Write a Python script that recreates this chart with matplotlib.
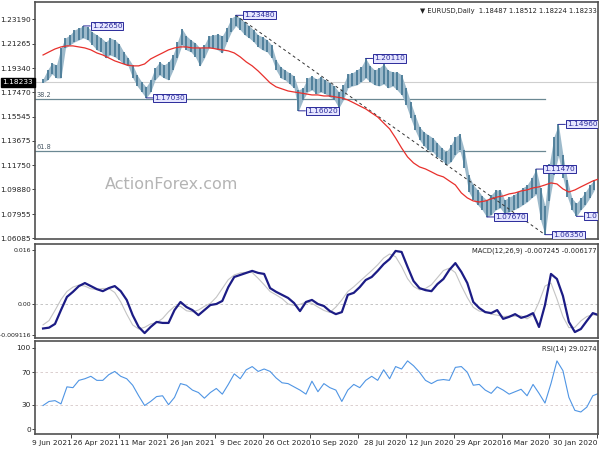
import matplotlib.pyplot as plt

# bar shift 0 = newest bar; the chart is mirrored, so newest is at the left
price_hi = [1.1851, 1.1921, 1.1976, 1.1960, 1.2093, 1.2171, 1.2195, 1.2234, 1.2249, 1.2265,
            1.2257, 1.2218, 1.2195, 1.2171, 1.2140, 1.2171, 1.2156, 1.2124, 1.2062, 1.2015,
            1.1960, 1.1882, 1.1828, 1.1789, 1.1843, 1.1937, 1.1984, 1.1960, 1.1984, 1.2038,
            1.2140, 1.2243, 1.2187, 1.2156, 1.2132, 1.2093, 1.2117, 1.2187, 1.2195, 1.2202,
            1.2187, 1.2249, 1.2327, 1.2348, 1.2327, 1.2296, 1.2265, 1.2234, 1.2195, 1.2179,
            1.2156, 1.2117, 1.1999, 1.1945, 1.1921, 1.1898, 1.1874, 1.1765, 1.1781, 1.1859,
            1.1874, 1.1851, 1.1867, 1.1843, 1.1820, 1.1796, 1.1749, 1.1804, 1.1890, 1.1898,
            1.1921, 1.1945, 1.2011, 1.1953, 1.1921, 1.1937, 1.1968, 1.1921, 1.1906, 1.1906,
            1.1882, 1.1781, 1.1671, 1.1570, 1.1476, 1.1437, 1.1414, 1.1390, 1.1351, 1.1312,
            1.1281, 1.1336, 1.1398, 1.1422, 1.1296, 1.1101, 1.1023, 1.0984, 1.0937, 1.0906,
            1.0945, 1.0984, 1.0984, 1.0906, 1.0929, 1.0945, 1.0968, 1.1000, 1.1023, 1.1078,
            1.1147, 1.1000, 1.0860, 1.1190, 1.1400, 1.1496, 1.1260, 1.1062, 1.0921, 1.0880,
            1.0921, 1.0968, 1.1023, 1.1062]
price_lo = [1.1822, 1.1843, 1.1890, 1.1859, 1.1859, 1.2093, 1.2117, 1.2140, 1.2156, 1.2171,
            1.2156, 1.2117, 1.2077, 1.2062, 1.2015, 1.2038, 1.2023, 1.1999, 1.1968, 1.1952,
            1.1859, 1.1796, 1.1749, 1.1703, 1.1749, 1.1843, 1.1882, 1.1859, 1.1843, 1.1921,
            1.2015, 1.2117, 1.2077, 1.2062, 1.2023, 1.1952, 1.2015, 1.2093, 1.2093, 1.2077,
            1.2054, 1.2140, 1.2218, 1.2265, 1.2234, 1.2195, 1.2171, 1.2140, 1.2101, 1.2077,
            1.2062, 1.2015, 1.1921, 1.1859, 1.1843, 1.1812, 1.1781, 1.1602, 1.1687, 1.1749,
            1.1765, 1.1734, 1.1749, 1.1734, 1.1710, 1.1687, 1.1624, 1.1687, 1.1781, 1.1796,
            1.1804, 1.1828, 1.1859, 1.1828, 1.1804, 1.1796, 1.1812, 1.1781, 1.1796, 1.1765,
            1.1726, 1.1648, 1.1546, 1.1453, 1.1375, 1.1328, 1.1296, 1.1281, 1.1242, 1.1218,
            1.1179, 1.1203, 1.1257, 1.1296, 1.1156, 1.0968, 1.0906, 1.0867, 1.0828, 1.0773,
            1.0789, 1.0828, 1.0844, 1.0797, 1.0812, 1.0828, 1.0844, 1.0867, 1.0890, 1.0922,
            1.0950, 1.0750, 1.0635, 1.0900, 1.1100, 1.1250, 1.1080, 1.0930, 1.0828, 1.0778,
            1.0828, 1.0867, 1.0922, 1.0984]
price_step = 3  # one hi/lo sample every 3 bars

ma_line = [1.2038, 1.2062, 1.2085, 1.2101, 1.2109, 1.2109, 1.2101, 1.2093, 1.2078, 1.2054,
           1.2038, 1.2015, 1.1992, 1.1976, 1.1960, 1.1953, 1.1953, 1.1968, 1.2007, 1.2031,
           1.2054, 1.2078, 1.2093, 1.2101, 1.2101, 1.2093, 1.2093, 1.2093, 1.2093, 1.2085,
           1.2078, 1.2070, 1.2054, 1.2023, 1.1984, 1.1953, 1.1913, 1.1867, 1.1820, 1.1789,
           1.1773, 1.1757, 1.1749, 1.1742, 1.1734, 1.1726, 1.1726, 1.1718, 1.1718, 1.1710,
           1.1703, 1.1687, 1.1664, 1.1640, 1.1617, 1.1585, 1.1554, 1.1507, 1.1461, 1.1390,
           1.1312, 1.1242, 1.1195, 1.1164, 1.1148, 1.1125, 1.1101, 1.1086, 1.1054, 1.1023,
           1.0961, 1.0922, 1.0898, 1.0890, 1.0898, 1.0914, 1.0929, 1.0937, 1.0953, 1.0961,
           1.0976, 1.0984, 1.1000, 1.1008, 1.1023, 1.1039, 1.1031, 1.0992, 1.0968, 1.0984,
           1.1008, 1.1031, 1.1054, 1.1070]
macd_main = [-0.007245, -0.0070, -0.0059, -0.0018, 0.0021, 0.0036, 0.0053, 0.0062, 0.0053, 0.0044,
             0.0038, 0.0047, 0.0053, 0.0038, 0.0012, -0.0033, -0.0068, -0.0086, -0.0068, -0.0053,
             -0.0056, -0.0056, -0.0018, 0.0006, -0.0009, -0.0018, -0.0033, -0.0018, -0.0003, 0.0000,
             0.0009, 0.0050, 0.0080, 0.0086, 0.0092, 0.0098, 0.0092, 0.0089, 0.0047, 0.0036,
             0.0027, 0.0018, 0.0003, -0.0021, 0.0006, 0.0012, 0.0000, -0.0006, -0.0021, -0.0030,
             -0.0024, 0.0027, 0.0033, 0.0050, 0.0071, 0.0080, 0.0098, 0.0118, 0.0133, 0.0157,
             0.0154, 0.0110, 0.0068, 0.0047, 0.0041, 0.0038, 0.0059, 0.0074, 0.0101, 0.0121,
             0.0095, 0.0062, 0.0006, -0.0012, -0.0024, -0.0027, -0.0018, -0.0044, -0.0038, -0.0030,
             -0.0041, -0.0036, -0.0027, -0.0068, -0.0003, 0.0089, 0.0074, 0.0024, -0.0053, -0.0083,
             -0.0074, -0.0050, -0.0027, -0.0033]
macd_signal = [-0.006177, -0.0049, -0.0019, 0.0013, 0.0037, 0.0050, 0.0056, 0.0053, 0.0045, 0.0043,
               0.0046, 0.0046, 0.0034, 0.0006, -0.0030, -0.0062, -0.0074, -0.0069, -0.0059, -0.0055,
               -0.0043, -0.0023, -0.0007, -0.0007, -0.0020, -0.0023, -0.0018, -0.0007, 0.0002, 0.0020,
               0.0046, 0.0072, 0.0086, 0.0092, 0.0094, 0.0093, 0.0076, 0.0057, 0.0037, 0.0027,
               0.0016, 0.0000, -0.0004, -0.0001, 0.0006, 0.0002, -0.0009, -0.0019, -0.0025, -0.0009,
               0.0012, 0.0037, 0.0051, 0.0067, 0.0083, 0.0099, 0.0116, 0.0136, 0.0148, 0.0140,
               0.0111, 0.0075, 0.0052, 0.0042, 0.0046, 0.0057, 0.0078, 0.0099, 0.0106, 0.0093,
               0.0054, 0.0019, -0.0010, -0.0021, -0.0023, -0.0030, -0.0033, -0.0037, -0.0036, -0.0036,
               -0.0035, -0.0044, -0.0033, 0.0006, 0.0053, 0.0062, 0.0015, -0.0037, -0.0070, -0.0069,
               -0.0050, -0.0037, -0.0032, -0.0033]
rsi_vals = [29.0, 34, 35, 31, 52, 51, 60, 62, 65, 60, 60, 67, 71, 65, 62, 54, 41, 29, 34, 40,
            41, 30, 39, 56, 54, 48, 45, 38, 45, 50, 43, 55, 68, 62, 73, 77, 71, 74, 71, 63,
            57, 56, 52, 48, 43, 59, 46, 56, 51, 48, 34, 48, 55, 51, 60, 65, 60, 73, 62, 77,
            74, 84, 78, 70, 60, 56, 60, 61, 60, 76, 77, 70, 54, 55, 48, 44, 52, 48, 43, 46,
            49, 41, 55, 44, 32, 56, 84, 72, 39, 23, 21, 27, 41, 44]
ind_step = 4  # indicators read every 4 bars

date_labels = ['9 Jun 2021', '26 Apr 2021', '11 Mar 2021', '26 Jan 2021', '9 Dec 2020',
               '26 Oct 2020', '10 Sep 2020', '28 Jul 2020', '12 Jun 2020', '29 Apr 2020',
               '16 Mar 2020', '30 Jan 2020']
date_shift = [19, 51, 83, 115, 147, 179, 211, 243, 275, 307, 339, 371]

main_ticks = [1.23190, 1.21265, 1.19340, 1.17470, 1.15545, 1.13675, 1.11750, 1.09880, 1.07955, 1.06085]
last_price = 1.18233

pivot_text = ['1.22650', '1.23480', '1.17030', '1.16020', '1.20110',
              '1.14960', '1.11470', '1.06350', '1.07670', '1.07720']
pivot_shift = [27, 129, 69, 171, 216, 345, 330, 336, 297, 357]
pivot_price = [1.2265, 1.2348, 1.1703, 1.1602, 1.2011, 1.1496, 1.1147, 1.0635, 1.0773, 1.0778]

fib_levels = [38.2, 61.8]
fib_high, fib_low = 1.2348, 1.0635
fib_end = 336

bar_col = '#4a7b97'
box_col = '#2a2a9a'
frame_col = '#505050'

fig = plt.figure(figsize=(6, 4.5), dpi=100)
ax1 = fig.add_axes([0.0583, 0.4689, 0.9384, 0.5267])
ax2 = fig.add_axes([0.0583, 0.2489, 0.9384, 0.2089])
ax3 = fig.add_axes([0.0583, 0.0356, 0.9384, 0.2066])

x_price = [i * price_step for i in range(len(price_hi))]
x_ind = [i * ind_step for i in range(len(ma_line))]

for ax in (ax1, ax2, ax3):
    ax.set_xlim(-5.4, 371.5)
    for s in ax.spines.values():
        s.set_color(frame_col)
        s.set_linewidth(1.2)
    ax.tick_params(axis='y', labelsize=5.3, length=2, width=0.6, pad=1, colors='#222222')
    ax.tick_params(axis='x', bottom=False, labelbottom=False)

# main price panel
ax1.axhline(last_price, color='#cfcfcf', lw=0.8, zorder=1)
for lvl in fib_levels:
    p = fib_high - lvl / 100 * (fib_high - fib_low)
    ax1.plot([-5.4, fib_end], [p, p], color='#6b8893', lw=0.9, zorder=1)
    ax1.text(-4.5, p + 0.0006, f'{lvl:.1f}', fontsize=4.8, color='#4a5a66', va='bottom')
ax1.plot([pivot_shift[1], pivot_shift[7]], [pivot_price[1], pivot_price[7]],
         color='#333333', lw=0.7, ls=(0, (3, 3)), zorder=3)
ax1.fill_between(x_price, price_lo, price_hi, color='#9dbacb', lw=0, zorder=2)
ax1.vlines(x_price, price_lo, price_hi, color=bar_col, lw=1.3, zorder=2)
ax1.plot(x_ind, ma_line, color='#e8302c', lw=0.9, zorder=3)
ax1.text(0.242, 0.228, 'ActionForex.com', transform=ax1.transAxes, fontsize=11.5,
         color='#b4b4b4', ha='center', va='center')
ax1.text(0.997, 0.975, '\u25bc EURUSD,Daily  1.18487 1.18512 1.18224 1.18233', transform=ax1.transAxes,
         fontsize=4.9, ha='right', va='top', color='#222222')
for txt, sh, pr in zip(pivot_text, pivot_shift, pivot_price):
    ax1.annotate(txt, xy=(sh, pr), xytext=(6, 0), textcoords='offset points',
                 fontsize=5.3, color=box_col, ha='left', va='center',
                 bbox=dict(boxstyle='square,pad=0.15', fc='#e6e6ff', ec=box_col, lw=0.7),
                 arrowprops=dict(arrowstyle='-', color=box_col, lw=0.7, shrinkA=0, shrinkB=0),
                 zorder=5, clip_on=True)
ax1.set_ylim(1.0601, 1.2452)
ax1.set_yticks(main_ticks)
ax1.set_yticklabels([f'{t:.5f}' for t in main_ticks])
ax1.text(-0.003, last_price, f'{last_price:.5f}', transform=ax1.get_yaxis_transform(),
         fontsize=5.3, color='white', ha='right', va='center',
         bbox=dict(boxstyle='square,pad=0.2', fc='black', ec='black'))

# MACD panel
ax2.axhline(0, color='#bbbbbb', lw=0.6, ls=(0, (3, 3)))
ax2.plot(x_ind, macd_signal, color='#c4c4c4', lw=0.8)
ax2.plot(x_ind, macd_main, color='#1c1c85', lw=1.6)
ax2.set_ylim(-0.01006, 0.01776)
ax2.set_yticks([0.016, 0.0, -0.009116])
ax2.set_yticklabels(['0.016', '0.00', '-0.009116'])
ax2.tick_params(axis='y', labelsize=4.5, pad=0.5)
ax2.text(0.997, 0.96, 'MACD(12,26,9) -0.007245 -0.006177', transform=ax2.transAxes,
         fontsize=4.9, ha='right', va='top', color='#222222')

# RSI panel
for lvl in (70, 30):
    ax3.axhline(lvl, color='#d6c8c8', lw=0.6, ls=(0, (3, 3)))
ax3.plot(x_ind, rsi_vals, color='#4f95e4', lw=0.8)
ax3.set_ylim(-6.1, 108.5)
ax3.set_yticks([100, 70, 30, 0])
ax3.set_yticklabels(['100', '70', '30', '0'])
ax3.text(0.997, 0.95, 'RSI(14) 29.0274', transform=ax3.transAxes,
         fontsize=4.9, ha='right', va='top', color='#222222')
ax3.set_xticks(date_shift)
ax3.set_xticklabels(date_labels, ha='right')
ax3.tick_params(axis='x', bottom=True, labelbottom=True, labelsize=5.3, length=3,
                width=0.6, pad=1, colors='#222222')

fig.savefig('out.png', dpi=100)
